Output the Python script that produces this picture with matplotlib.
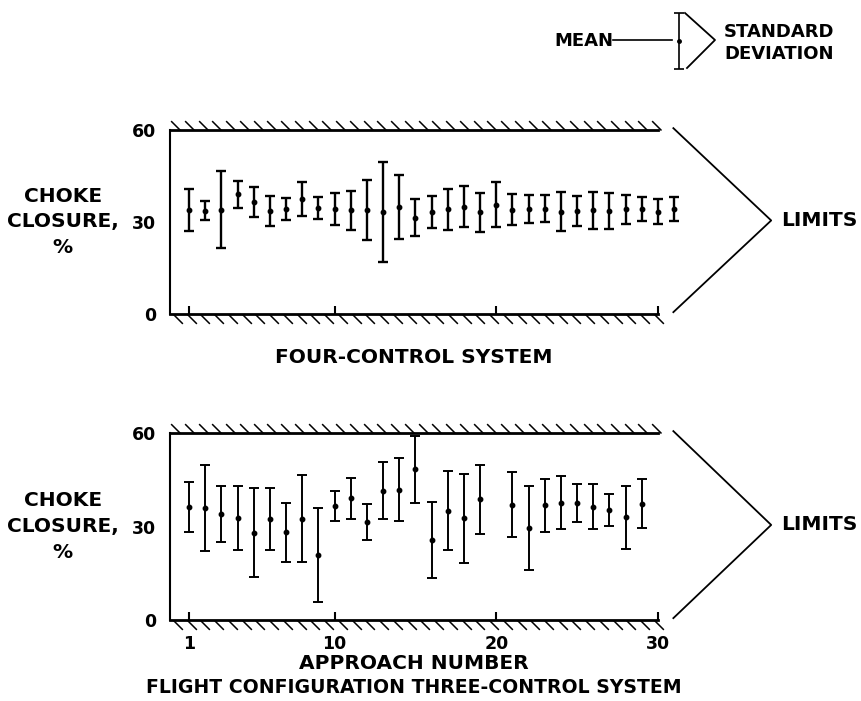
import numpy as np
import matplotlib
matplotlib.use("Agg")
import matplotlib.pyplot as plt
from matplotlib.path import Path

plt.rcParams["font.family"] = "DejaVu Sans"
plt.rcParams["font.weight"] = "bold"

# four-control system, approaches 1-31
four_approach = list(range(1, 32))
four_mean = [34.0, 33.6, 34.0, 39.0, 36.5, 33.5, 34.2, 37.5, 34.5, 34.3,
             33.8, 33.9, 33.2, 34.8, 31.4, 33.3, 34.1, 35.0, 33.2, 35.7,
             34.0, 34.3, 34.4, 33.4, 33.6, 33.8, 33.7, 34.1, 34.2, 33.3, 34.1]
four_sd = [6.8, 3.1, 12.6, 4.5, 4.9, 4.9, 3.5, 5.7, 3.6, 5.3,
           6.3, 9.8, 16.4, 10.4, 6.0, 5.2, 6.6, 6.7, 6.3, 7.4,
           5.0, 4.6, 4.3, 6.4, 4.9, 6.0, 5.9, 4.6, 3.9, 4.1, 3.9]

# flight configuration three-control system (no approach 20 or 30)
three_approach = list(range(1, 20)) + list(range(21, 30))
three_mean = [36.2, 35.8, 34.0, 32.7, 28.0, 32.4, 28.1, 32.5, 20.9, 36.7,
              39.1, 31.5, 41.5, 41.8, 48.3, 25.7, 35.1, 32.6, 38.7,
              37.0, 29.5, 36.8, 37.7, 37.6, 36.3, 35.3, 32.9, 37.3]
three_sd = [8.1, 13.8, 8.9, 10.4, 14.3, 9.8, 9.6, 14.0, 15.1, 4.8,
            6.6, 5.8, 9.2, 10.1, 10.6, 12.3, 12.8, 14.3, 11.1,
            10.4, 13.4, 8.5, 8.4, 6.0, 7.2, 5.1, 10.2, 7.9]

x_ticks = [1, 10, 20, 30]
y_ticks = [0, 30, 60]
lo_limit, hi_limit = 0, 60

W, H = 862, 701
fig = plt.figure(figsize=(W / 100, H / 100), dpi=100)
ax1 = fig.add_axes([170 / W, 1 - 314 / H, 488 / W, 184 / H])
ax2 = fig.add_axes([170 / W, 1 - 620 / H, 488 / W, 187 / H])

hatch_up = Path([(0, 0), (-1, 1)])
hatch_down = Path([(0, 0), (1, -1)])


def panel(ax, x, mean, sd, lw):
    ax.set_xlim(-0.18, 30)
    ax.set_ylim(lo_limit, hi_limit)
    ax.spines["right"].set_visible(False)
    ax.spines["left"].set_linewidth(1.5)
    ax.spines["top"].set_linewidth(2)
    ax.spines["bottom"].set_linewidth(2)

    # hatched limit lines
    hx = np.arange(0.0, 30.01, 0.85)
    ax.plot(hx + 0.45, np.full(len(hx), hi_limit), ls="none", marker=hatch_up,
            ms=13.5, mew=1.1, mfc="none", color="k", clip_on=False)
    ax.plot(hx, np.full(len(hx), lo_limit), ls="none", marker=hatch_down,
            ms=13.5, mew=1.1, mfc="none", color="k", clip_on=False)

    eb = ax.errorbar(x, mean, yerr=sd, fmt="o", ms=3.2, color="k",
                     elinewidth=lw, capsize=3.5, capthick=lw)
    for a in eb.get_children():
        a.set_clip_on(False)

    ax.set_xticks(x_ticks)
    ax.set_yticks(y_ticks)
    ax.tick_params(axis="x", direction="in", length=6, width=1.5, pad=11,
                   labelsize=12.5, top=False)
    ax.tick_params(axis="y", direction="out", length=7, width=1.3, pad=3,
                   labelsize=12.5)
    for t in ax.yaxis.get_major_ticks():
        t.tick1line.set_visible(t.get_loc() == 30)

    ax.text(-0.22, 30, "CHOKE\nCLOSURE,\n%", transform=ax.get_yaxis_transform(),
            ha="center", va="center", fontsize=14.5, linespacing=1.45)

    # limits bracket
    ax.plot([30.95, 37.0, 30.95], [60.6, 30.5, 0.6], color="k", lw=1.3,
            clip_on=False)
    ax.text(37.6, 30.5, "LIMITS", ha="left", va="center", fontsize=14.5)


panel(ax1, four_approach, four_mean, four_sd, 1.7)
panel(ax2, three_approach, three_mean, three_sd, 1.4)
ax1.tick_params(axis="x", labelbottom=False)

ax1.text(0.5, -0.234, "FOUR-CONTROL SYSTEM", transform=ax1.transAxes,
         ha="center", va="center", fontsize=14.5)
ax2.text(0.5, -0.235, "APPROACH NUMBER", transform=ax2.transAxes,
         ha="center", va="center", fontsize=14.5)
ax2.text(0.5, -0.36, "FLIGHT CONFIGURATION THREE-CONTROL SYSTEM",
         transform=ax2.transAxes, ha="center", va="center", fontsize=13.6)

# key in the upper right corner
key = fig.add_axes([0, 0, 1, 1])
key.set_xlim(0, W)
key.set_ylim(H, 0)
key.axis("off")
key.text(613, 41, "MEAN", ha="right", va="center", fontsize=13)
key.plot([613, 672], [40, 40], color="k", lw=1.2)
key.errorbar([679], [40.5], yerr=[28], fmt="o", ms=2.5, color="k",
             elinewidth=1.2, capsize=3.5, capthick=1.2)
key.plot([685, 715, 687], [13, 40, 68], color="k", lw=1.3)
key.text(724, 43, "STANDARD\nDEVIATION", ha="left", va="center",
         fontsize=13, linespacing=1.25)

fig.savefig("out.png", dpi=100)
